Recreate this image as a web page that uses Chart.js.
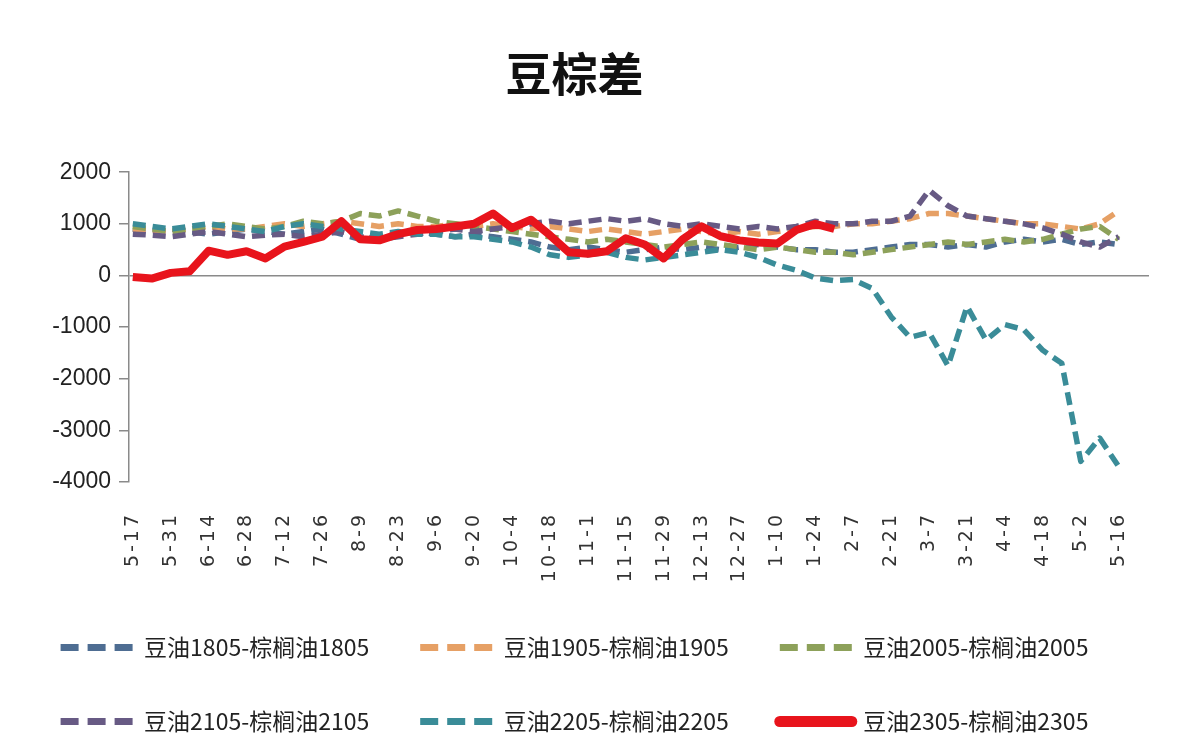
<!DOCTYPE html>
<html>
<head>
<meta charset="utf-8">
<title>豆棕差</title>
<script src="https://cdn.jsdelivr.net/npm/chart.js@4"></script>
<style>
  html, body { margin: 0; padding: 0; background: #fff; }
  #chart { display: block; }
</style>
</head>
<body>
<canvas id="chart" width="1178" height="749"></canvas>
<script>
// 周度日期，5月中旬到次年5月中旬
const dates = [
  "5-17", "5-24", "5-31", "6-7", "6-14", "6-21", "6-28", "7-5", "7-12", "7-19",
  "7-26", "8-2", "8-9", "8-16", "8-23", "8-30", "9-6", "9-13", "9-20", "9-27",
  "10-4", "10-11", "10-18", "10-25", "11-1", "11-8", "11-15", "11-22", "11-29", "12-6",
  "12-13", "12-20", "12-27", "1-3", "1-10", "1-17", "1-24", "1-31", "2-7", "2-14",
  "2-21", "2-28", "3-7", "3-14", "3-21", "3-28", "4-4", "4-11", "4-18", "4-25",
  "5-2", "5-9", "5-16"
];

// 各合约豆棕价差（元/吨）
const spread1805 = [
  900, 850, 900, 850, 800, 850, 900, 850, 800, 850,
  900, 800, 700, 750, 800, 850, 800, 750, 800, 750,
  700, 650, 550, 500, 550, 500, 450, 500, 550, 500,
  550, 500, 550, 600, 550, 500, 500, 450, 450, 500,
  550, 600, 600, 550, 600, 550, 650, 700, 650, 700,
  600, 650, 600
];
const spread1905 = [
  900, 880, 850, 900, 950, 900, 900, 950, 1000, 950,
  1000, 1050, 1000, 950, 1000, 950, 950, 1000, 950, 1000,
  950, 900, 950, 900, 850, 900, 850, 800, 850, 900,
  850, 800, 850, 800, 850, 900, 950, 950, 1000, 1000,
  1050, 1100, 1200, 1200, 1150, 1100, 1050, 1000, 1000, 950,
  900, 1000, 1250
];
const spread2005 = [
  950, 900, 850, 900, 950, 1000, 950, 900, 950, 1050,
  1000, 1050, 1200, 1150, 1250, 1150, 1050, 1000, 950, 900,
  850, 800, 750, 700, 650, 700, 650, 600, 550, 600,
  650, 600, 550, 500, 550, 500, 450, 450, 400, 450,
  500, 550, 600, 650, 600, 650, 700, 650, 700, 800,
  900, 950, 700
];
const spread2105 = [
  800, 780, 750, 800, 850, 800, 750, 780, 800, 750,
  800, 850, 750, 700, 750, 800, 850, 900, 850, 900,
  950, 1000, 1050, 1000, 1050, 1100, 1050, 1100, 1000, 950,
  1000, 950, 900, 950, 900, 950, 1050, 1000, 1000, 1050,
  1050, 1150, 1650, 1350, 1150, 1100, 1050, 1000, 920, 800,
  650, 550, 750
];
const spread2205 = [
  1000, 950, 900, 950, 1000, 950, 900, 850, 950, 1000,
  950, 900, 850, 800, 850, 800, 800, 750, 750, 700,
  650, 550, 400, 350, 400, 450, 350, 300, 350, 400,
  450, 500, 450, 350, 200, 100, -50, -100, -80, -250,
  -800, -1200, -1100, -1750, -600, -1250, -950, -1050, -1450, -1700,
  -3600, -3150, -3700
];
// 2305 只到 1 月底
const spread2305 = [
  -30, -60, 50, 80, 480, 400, 470, 330, 560, 650,
  750, 1050, 700, 680, 800, 880, 900, 950, 1000, 1200,
  920, 1080, 780, 450, 420, 470, 720, 600, 330, 700,
  950, 760, 680, 640, 620, 880, 1000, 900
];

const yTicks = [-4000, -3000, -2000, -1000, 0, 1000, 2000];

const toPoints = arr => arr.map((v, i) => ({ x: i, y: v }));

const DASH = [13, 7];

const datasets = [
  { label: "豆油1805-棕榈油1805", data: toPoints(spread1805), borderColor: "#4E6D92", borderDash: DASH, borderWidth: 5.5, order: 5 },
  { label: "豆油1905-棕榈油1905", data: toPoints(spread1905), borderColor: "#E6A065", borderDash: DASH, borderWidth: 5.5, order: 4 },
  { label: "豆油2005-棕榈油2005", data: toPoints(spread2005), borderColor: "#8DA15A", borderDash: DASH, borderWidth: 5.5, order: 3 },
  { label: "豆油2105-棕榈油2105", data: toPoints(spread2105), borderColor: "#675A84", borderDash: DASH, borderWidth: 5.5, order: 2 },
  { label: "豆油2205-棕榈油2205", data: toPoints(spread2205), borderColor: "#3A8C98", borderDash: DASH, borderWidth: 5.5, order: 1 },
  { label: "豆油2305-棕榈油2305", data: toPoints(spread2305), borderColor: "#E8141C", borderWidth: 8, order: 0 }
];

const AXIS_GRAY = "#8a8a8a";

const chart = new Chart(document.getElementById("chart"), {
  type: "line",
  data: { datasets },
  options: {
    responsive: false,
    animation: false,
    layout: { padding: { left: 0, right: 29, top: 0, bottom: 6 } },
    elements: {
      line: { tension: 0, fill: false, borderJoinStyle: "round" },
      point: { radius: 0, hoverRadius: 0 }
    },
    scales: {
      x: {
        type: "linear",
        min: -0.2,
        max: 53.6,
        grid: { display: false, drawTicks: false },
        border: { display: false },
        afterBuildTicks: scale => {
          scale.ticks = dates.map((d, i) => ({ value: i })).filter(t => t.value % 2 === 0);
        },
        afterFit: scale => { scale.height = 103; },
        ticks: {
          autoSkip: false,
          minRotation: 90,
          maxRotation: 90,
          padding: 30,
          color: "#333",
          font: { family: "'DejaVu Sans'", size: 19 },
          callback: value => dates[value]
        }
      },
      y: {
        min: -4000,
        max: 2000,
        afterBuildTicks: scale => {
          scale.ticks = yTicks.map(v => ({ value: v }));
        },
        afterFit: scale => { scale.width = 129; },
        grid: {
          color: ctx => (ctx.tick && ctx.tick.value === 0 ? AXIS_GRAY : "transparent"),
          tickColor: AXIS_GRAY,
          lineWidth: 1.5,
          tickLength: 10
        },
        border: { display: true, color: AXIS_GRAY, width: 1.5 },
        ticks: {
          padding: 8,
          color: "#222",
          font: { family: "'Liberation Sans'", size: 23 },
          callback: value => String(value)
        }
      }
    },
    plugins: {
      title: {
        display: true,
        text: "豆棕差",
        color: "#111",
        font: { family: "'Noto Sans CJK SC'", size: 46, weight: "bold", lineHeight: 1.2 },
        padding: { top: 46, bottom: 71 }
      },
      legend: {
        position: "bottom",
        labels: {
          usePointStyle: true,
          pointStyle: "line",
          pointStyleWidth: 72,
          padding: 51,
          color: "#222",
          font: { family: "'Noto Sans CJK SC'", size: 23 },
          generateLabels: chart => chart.data.datasets.map((ds, i) => ({
            text: ds.label,
            datasetIndex: i,
            hidden: !chart.isDatasetVisible(i),
            fontColor: "#222",
            strokeStyle: ds.borderColor,
            fillStyle: ds.borderColor,
            pointStyle: "line",
            lineWidth: ds.borderDash ? 7 : 11,
            lineDash: ds.borderDash ? [18, 9] : [],
            lineCap: ds.borderDash ? "butt" : "round"
          }))
        }
      },
      tooltip: { enabled: false }
    }
  }
});

// 日期标签字距拉开一些
const xScale = chart.scales.x;
const drawXLabels = xScale.drawLabels.bind(xScale);
xScale.drawLabels = function (area) {
  const ctx = this.ctx;
  ctx.save();
  ctx.letterSpacing = "3px";
  drawXLabels(area);
  ctx.restore();
};
chart.draw();
</script>
</body>
</html>
